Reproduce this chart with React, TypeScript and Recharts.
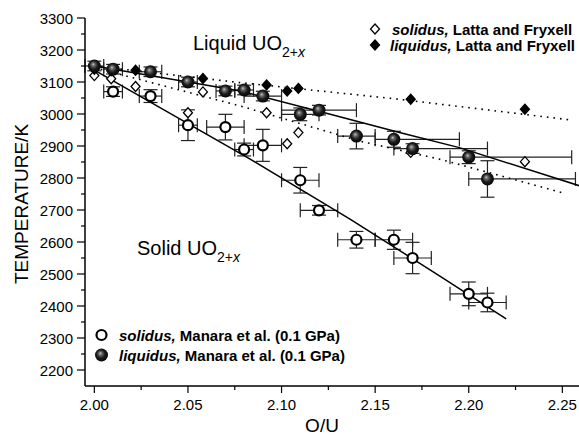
import React from 'react';
import { ScatterChart, Scatter, XAxis, YAxis, ErrorBar } from 'recharts';

// Manara et al. liquidus (spheres)
const liqX = [2.0, 2.01, 2.03, 2.05, 2.07, 2.08, 2.09, 2.11, 2.12, 2.14, 2.16, 2.17, 2.2, 2.21];
const liqY = [3150, 3140, 3132, 3100, 3072, 3075, 3056, 2999, 3012, 2931, 2921, 2892, 2865, 2797];
const liqEx = [0.005, 0.005, 0.006, 0.005, 0.005, 0.005, 0.01, 0.01, 0.02, 0.01, [0.01, 0.035], [0.01, 0.04], [0.01, 0.055], [0.01, 0.047]];
const liqEy = [15, 15, 15, 15, 15, 15, 15, 20, 15, 40, 25, 15, 20, 57];

// Manara et al. solidus (open circles)
const solX = [2.01, 2.03, 2.05, 2.07, 2.08, 2.09, 2.11, 2.12, 2.14, 2.16, 2.17, 2.2, 2.21];
const solY = [3070, 3056, 2965, 2959, 2889, 2902, 2793, 2699, 2607, 2607, 2550, 2438, 2411];
const solEx = [0.005, 0.006, 0.005, 0.01, 0.005, 0.01, 0.01, 0.01, 0.01, 0.01, 0.01, 0.01, 0.01];
const solEy = [15, 20, 48, 40, 20, 50, 40, 15, 26, 30, 49, 37, 29];

// Latta and Fryxell
const lattaLiqX = [2.0, 2.009, 2.022, 2.058, 2.092, 2.103, 2.109, 2.169, 2.23];
const lattaLiqY = [3140, 3135, 3137, 3111, 3091, 3072, 3080, 3046, 3015];
const lattaSolX = [2.0, 2.009, 2.022, 2.05, 2.058, 2.092, 2.103, 2.109, 2.169, 2.23];
const lattaSolY = [3120, 3110, 3086, 3004, 3069, 3004, 2907, 2942, 2880, 2851];

// fitted curves
const fitLiqX = [2.0, 2.05, 2.078, 2.126, 2.163, 2.195, 2.259];
const fitLiqY = [3150, 3100, 3072, 2999, 2942, 2895, 2776];
const fitSolX = [2.0, 2.083, 2.137, 2.185, 2.22];
const fitSolY = [3137, 2860, 2670, 2492, 2360];
const dotLiqX = [2.0, 2.078, 2.163, 2.255];
const dotLiqY = [3150, 3098, 3046, 2981];
const dotSolX = [2.0, 2.078, 2.142, 2.185, 2.25];
const dotSolY = [3145, 3025, 2915, 2858, 2754];

const xTicks = [2.0, 2.025, 2.05, 2.075, 2.1, 2.125, 2.15, 2.175, 2.2, 2.225, 2.25];
const xLabels = ['2.00', '', '2.05', '', '2.10', '', '2.15', '', '2.20', '', '2.25'];
const yTicks = [2200, 2250, 2300, 2350, 2400, 2450, 2500, 2550, 2600, 2650, 2700, 2750, 2800, 2850, 2900, 2950, 3000, 3050, 3100, 3150, 3200, 3250, 3300];

const FONT = '"Liberation Sans", Arial, Helvetica, sans-serif';

const pts = (xs: number[], ys: number[], ex?: any[], ey?: any[]) =>
  xs.map((x, i) => ({ x, y: ys[i], ex: ex ? ex[i] : 0, ey: ey ? ey[i] : 0 }));

const Sphere = (p: any) => <circle cx={p.cx} cy={p.cy} r={6.5} fill="url(#sphereGrad)" />;
const OpenCircle = (p: any) => <circle cx={p.cx} cy={p.cy} r={5} fill="#fff" stroke="#000" strokeWidth={2.2} />;
const diamondPath = (cx: number, cy: number) => `M${cx},${cy - 5}L${cx + 4.5},${cy}L${cx},${cy + 5}L${cx - 4.5},${cy}Z`;
const OpenDiamond = (p: any) => <path d={diamondPath(p.cx, p.cy)} fill="#fff" stroke="#000" strokeWidth={1.3} />;
const FilledDiamond = (p: any) => <path d={diamondPath(p.cx, p.cy)} fill="#000" stroke="#000" strokeWidth={1.3} />;
const NoDot = () => <g />;

const XTick = (props: any) => {
  const { x, y, index } = props;
  const label = xLabels[index];
  return (
    <g>
      <line x1={x} x2={x} y1={y} y2={y + (label ? 7 : 4)} stroke="#000" strokeWidth={1.2} />
      {label && (
        <text x={x} y={y + 24} textAnchor="middle" fontSize={15} fontFamily={FONT} fill="#000">
          {label}
        </text>
      )}
    </g>
  );
};

const YTick = (props: any) => {
  const { x, y, payload } = props;
  const major = payload.value % 100 === 0;
  return (
    <g>
      <line x1={x} x2={x - (major ? 8 : 4)} y1={y} y2={y} stroke="#000" strokeWidth={1.2} />
      {major && (
        <text x={x - 12} y={y + 5.5} textAnchor="end" fontSize={15} fontFamily={FONT} fill="#000">
          {payload.value}
        </text>
      )}
    </g>
  );
};

const errStyle = { stroke: '#222', strokeWidth: 1.2 };

export default function App() {
  return (
    <div style={{ position: 'absolute', left: 0, top: 0, width: 579, height: 435, background: '#fff' }}>
      <ScatterChart width={579} height={435} margin={{ top: 18, right: 0, bottom: 0, left: 0 }}>
        <defs>
          <radialGradient id="sphereGrad" cx="48%" cy="48%" r="58%" fx="40%" fy="36%">
            <stop offset="0%" stopColor="#c4c4c4" />
            <stop offset="22%" stopColor="#6a6a6a" />
            <stop offset="55%" stopColor="#1c1c1c" />
            <stop offset="100%" stopColor="#000" />
          </radialGradient>
        </defs>
        <XAxis
          type="number"
          dataKey="x"
          domain={[1.995, 2.2589]}
          ticks={xTicks}
          interval={0}
          height={49}
          tickSize={0}
          tickMargin={0}
          tickLine={false}
          tick={<XTick />}
          axisLine={{ stroke: '#000', strokeWidth: 1.5 }}
          allowDataOverflow
        />
        <XAxis
          xAxisId="top"
          orientation="top"
          type="number"
          dataKey="x"
          domain={[1.995, 2.2589]}
          ticks={xTicks}
          interval={0}
          height={0}
          mirror
          tick={false}
          tickSize={4}
          tickLine={{ stroke: '#000' }}
          axisLine={{ stroke: '#000', strokeWidth: 1.5 }}
        />
        <YAxis
          type="number"
          dataKey="y"
          domain={[2150, 3300]}
          ticks={yTicks}
          interval={0}
          width={85}
          tickSize={0}
          tickMargin={0}
          tickLine={false}
          tick={<YTick />}
          axisLine={{ stroke: '#000', strokeWidth: 1.5 }}
          allowDataOverflow
        />

        <Scatter data={pts(dotLiqX, dotLiqY)} shape={NoDot} line={{ stroke: '#000', strokeWidth: 1.6, strokeDasharray: '1.6 5' }} isAnimationActive={false} />
        <Scatter data={pts(dotSolX, dotSolY)} shape={NoDot} line={{ stroke: '#000', strokeWidth: 1.6, strokeDasharray: '1.6 5' }} isAnimationActive={false} />
        <Scatter data={pts(fitLiqX, fitLiqY)} shape={NoDot} line={{ stroke: '#000', strokeWidth: 1.5 }} isAnimationActive={false} />
        <Scatter data={pts(fitSolX, fitSolY)} shape={NoDot} line={{ stroke: '#000', strokeWidth: 1.5 }} isAnimationActive={false} />

        <Scatter name="solidus, Latta and Fryxell" data={pts(lattaSolX, lattaSolY)} shape={OpenDiamond} isAnimationActive={false} />
        <Scatter name="liquidus, Latta and Fryxell" data={pts(lattaLiqX, lattaLiqY)} shape={FilledDiamond} isAnimationActive={false} />

        <Scatter name="solidus, Manara et al. (0.1 GPa)" data={pts(solX, solY, solEx, solEy)} shape={OpenCircle} isAnimationActive={false}>
          <ErrorBar dataKey="ex" direction="x" width={7} {...errStyle} />
          <ErrorBar dataKey="ey" direction="y" width={7} {...errStyle} />
        </Scatter>
        <Scatter name="liquidus, Manara et al. (0.1 GPa)" data={pts(liqX, liqY, liqEx, liqEy)} shape={Sphere} isAnimationActive={false}>
          <ErrorBar dataKey="ex" direction="x" width={7} {...errStyle} />
          <ErrorBar dataKey="ey" direction="y" width={7} {...errStyle} />
        </Scatter>

        {/* axis titles */}
        <text x={28} y={204} transform="rotate(-90 28 204)" textAnchor="middle" fontSize={19} fontFamily={FONT} fill="#000">
          TEMPERATURE/K
        </text>
        <text x={322} y={432} textAnchor="middle" fontSize={19} fontFamily={FONT} fill="#000">
          O/U
        </text>

        {/* phase labels */}
        <text x={193} y={50} fontSize={20} fontFamily={FONT} fill="#000">
          Liquid UO
          <tspan fontSize={14} dy={7}>2+</tspan>
          <tspan fontSize={14} fontStyle="italic">x</tspan>
        </text>
        <text x={137} y={255} fontSize={20} fontFamily={FONT} fill="#000">
          Solid UO
          <tspan fontSize={14} dy={7}>2+</tspan>
          <tspan fontSize={14} fontStyle="italic">x</tspan>
        </text>

        {/* legend, Latta and Fryxell */}
        <OpenDiamond cx={375} cy={29} />
        <FilledDiamond cx={375} cy={45} />
        <text x={392} y={34.5} fontSize={15} fontWeight="bold" fontFamily={FONT} fill="#000">
          <tspan fontStyle="italic">solidus,</tspan> Latta and Fryxell
        </text>
        <text x={390} y={50.5} fontSize={15} fontWeight="bold" fontFamily={FONT} fill="#000">
          <tspan fontStyle="italic">liquidus,</tspan> Latta and Fryxell
        </text>

        {/* legend, Manara et al. */}
        <OpenCircle cx={101.5} cy={335} />
        <Sphere cx={101.5} cy={355} />
        <text x={119} y={340.5} fontSize={15} fontWeight="bold" fontFamily={FONT} fill="#000">
          <tspan fontStyle="italic">solidus,</tspan> Manara et al. (0.1 GPa)
        </text>
        <text x={119} y={360.5} fontSize={15} fontWeight="bold" fontFamily={FONT} fill="#000">
          <tspan fontStyle="italic">liquidus,</tspan> Manara et al. (0.1 GPa)
        </text>
      </ScatterChart>
    </div>
  );
}
